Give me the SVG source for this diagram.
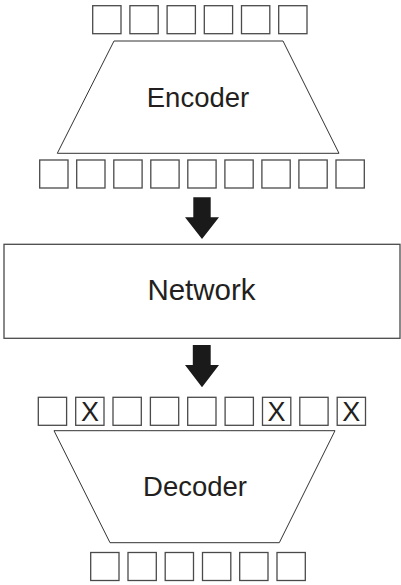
<svg xmlns="http://www.w3.org/2000/svg" width="401" height="585" viewBox="0 0 401 585">
  <style>
    .cell { fill: #fff; stroke: #4a4a4a; stroke-width: 1.3; }
    .trap { fill: #fff; stroke: #333; stroke-width: 1; }
    .block { fill: #fff; stroke: #4a4a4a; stroke-width: 1.3; }
    .label { font-family: "Liberation Sans", Arial, sans-serif; fill: #231f20; text-anchor: middle; }
    .arrow { fill: #1a1a1a; }
  </style>
  <defs>
    <rect id="cell" width="28.3" height="28" class="cell"/>
  </defs>

  <!-- encoder input cells -->
  <g id="encoder-input">
    <use href="#cell" x="92.7" y="5.7"/>
    <use href="#cell" x="129.9" y="5.7"/>
    <use href="#cell" x="167.1" y="5.7"/>
    <use href="#cell" x="204.3" y="5.7"/>
    <use href="#cell" x="241.5" y="5.7"/>
    <use href="#cell" x="278.7" y="5.7"/>
  </g>

  <!-- encoder -->
  <g id="encoder">
    <polygon class="trap" points="114,41 283,41 339,153.3 57.3,153.3"/>
    <text class="label" x="198" y="107" font-size="27.5">Encoder</text>
  </g>

  <!-- encoder output cells -->
  <g id="encoder-output">
    <use href="#cell" x="39.7" y="160"/>
    <use href="#cell" x="76.7" y="160"/>
    <use href="#cell" x="113.8" y="160"/>
    <use href="#cell" x="150.8" y="160"/>
    <use href="#cell" x="187.8" y="160"/>
    <use href="#cell" x="224.9" y="160"/>
    <use href="#cell" x="261.9" y="160"/>
    <use href="#cell" x="298.9" y="160"/>
    <use href="#cell" x="336" y="160"/>
  </g>

  <!-- network -->
  <g id="network">
    <rect class="block" x="4" y="244.3" width="396" height="94"/>
    <text class="label" x="201.5" y="300" font-size="29.5">Network</text>
  </g>

  <!-- decoder input cells, some masked -->
  <g id="decoder-input">
    <use href="#cell" x="38.3" y="397.3"/>
    <use href="#cell" x="75.7" y="397.3"/>
    <use href="#cell" x="113" y="397.3"/>
    <use href="#cell" x="150.4" y="397.3"/>
    <use href="#cell" x="187.7" y="397.3"/>
    <use href="#cell" x="225.1" y="397.3"/>
    <use href="#cell" x="262.5" y="397.3"/>
    <use href="#cell" x="299.8" y="397.3"/>
    <use href="#cell" x="337.2" y="397.3"/>
    <text class="label" x="89.9" y="420.5" font-size="27">X</text>
    <text class="label" x="276.6" y="420.5" font-size="27">X</text>
    <text class="label" x="351.3" y="420.5" font-size="27">X</text>
  </g>

  <!-- decoder -->
  <g id="decoder">
    <polygon class="trap" points="54,430.7 335,430.7 279.3,542.7 110,542.7"/>
    <text class="label" x="195" y="495.7" font-size="27.5">Decoder</text>
  </g>

  <!-- decoder output cells -->
  <g id="decoder-output">
    <use href="#cell" x="90.7" y="552.5"/>
    <use href="#cell" x="128" y="552.5"/>
    <use href="#cell" x="165.2" y="552.5"/>
    <use href="#cell" x="202.5" y="552.5"/>
    <use href="#cell" x="239.7" y="552.5"/>
    <use href="#cell" x="277" y="552.5"/>
  </g>

  <!-- connectors -->
  <g id="connectors">
    <polygon class="arrow" points="193.3,197.3 210.7,197.3 210.7,217.3 219,217.3 202,239 185,217.3 193.3,217.3"/>
    <polygon class="arrow" points="192.8,345 210.7,345 210.7,365 219,365 202,387.3 185,365 192.8,365"/>
  </g>
</svg>
